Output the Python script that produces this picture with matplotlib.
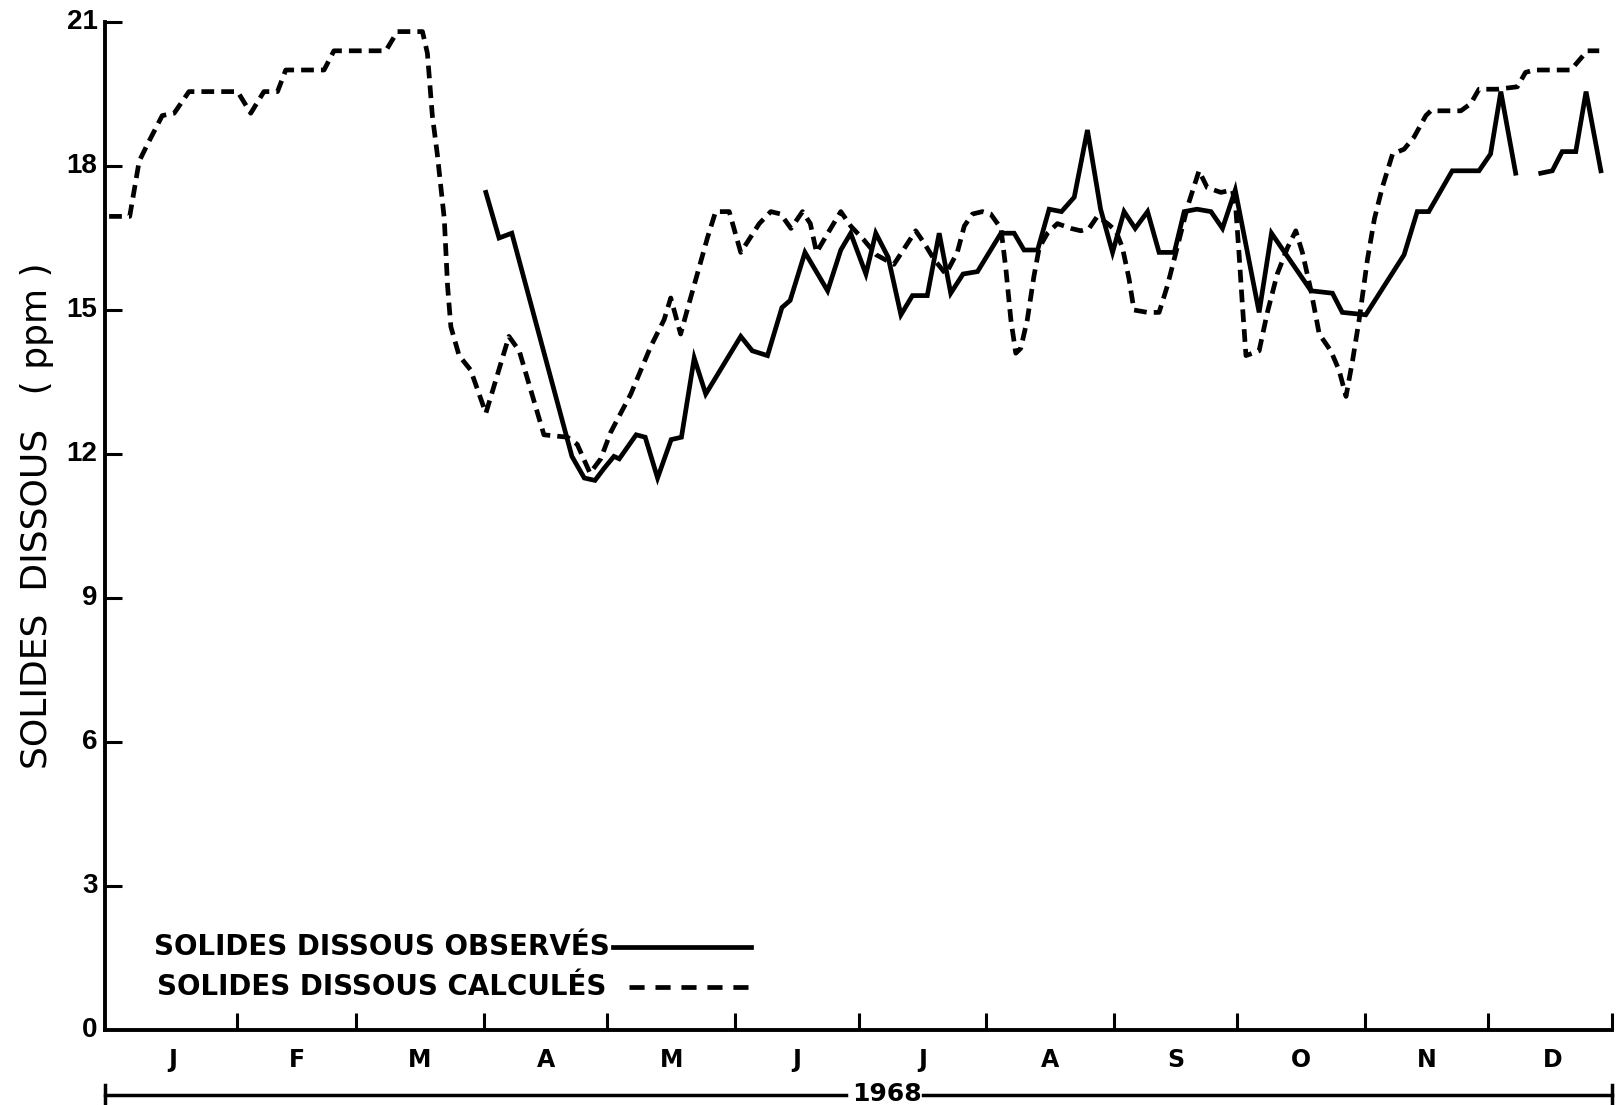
import numpy as np
import matplotlib.pyplot as plt
from matplotlib.transforms import blended_transform_factory

# --- données : jour de l'année 1968 (1 = 1er janvier) et solides dissous (ppm) ---

# solides dissous calculés (trait interrompu)
jours_calc = [1, 6, 8.3, 10.3, 13.9, 16.8, 20.4, 32.2, 35.4, 38.6, 41.9, 43.9, 53.2,
              55.6, 68.2, 71.0, 77.1, 78.3, 79.5, 80.7, 82.4, 83.2, 84.0, 86.0, 88.8,
              92.5, 98.1, 100.6, 106.6, 112.3, 114.7, 117.8, 120.4, 122.8, 127.7,
              132.6, 135.8, 137.4, 139.8, 141.4, 146.3, 148.3, 151.6, 154.4, 158.9,
              161.7, 164.1, 166.6, 169.4, 171.3, 172.8, 175.9, 178.7, 181.1, 184.4,
              187.3, 191.6, 196.9, 198.9, 201.4, 204.2, 207.0, 208.7, 210.7, 213.1,
              215.1, 217.6, 218.8, 220.0, 221.2, 222.4, 224.0, 225.6, 226.9, 228.9,
              231.3, 234.6, 237.0, 239.0, 241.0, 243.5, 245.5, 247.1, 248.7, 249.9,
              253.2, 256.0, 258.0, 260.1, 262.9, 265.7, 267.7, 271.0, 273.8, 274.6,
              275.4, 276.2, 277.1, 280.3, 282.3, 284.7, 287.2, 289.2, 290.8, 292.9,
              294.9, 297.7, 299.7, 301.4, 303.0, 304.6, 306.6, 308.3, 310.2, 312.7,
              315.5, 317.9, 320.8, 322.0, 329.3, 331.7, 333.7, 338.2, 343.0, 345.0,
              347.1, 356.0, 358.0, 360.0, 362.9]
solides_calc = [16.95, 16.95, 18.1, 18.45, 19.05, 19.1, 19.55, 19.55, 19.1, 19.55, 19.55,
                20.0, 20.0, 20.4, 20.4, 20.8, 20.8, 20.35, 19.05, 18.25, 16.9, 15.5,
                14.65, 14.05, 13.75, 12.85, 14.45, 14.15, 12.4, 12.35, 12.2, 11.6, 11.9,
                12.45, 13.25, 14.25, 14.8, 15.25, 14.5, 15.0, 16.5, 17.05, 17.05, 16.2,
                16.8, 17.05, 17.0, 16.7, 17.05, 16.8, 16.2, 16.65, 17.05, 16.75, 16.45,
                16.15, 15.95, 16.65, 16.4, 16.05, 15.75, 16.2, 16.75, 17.0, 17.05, 17.0,
                16.7, 15.85, 14.8, 14.1, 14.2, 14.8, 15.7, 16.3, 16.6, 16.8, 16.7, 16.65,
                16.7, 16.95, 16.8, 16.65, 16.3, 15.65, 15.0, 14.95, 14.95, 15.5, 16.2,
                17.15, 17.9, 17.55, 17.45, 17.5, 17.15, 16.2, 15.15, 14.05, 14.15, 14.95,
                15.75, 16.3, 16.65, 16.2, 15.4, 14.5, 14.15, 13.75, 13.2, 13.95, 14.8,
                16.05, 16.9, 17.55, 18.25, 18.35, 18.6, 19.05, 19.15, 19.15, 19.3, 19.6,
                19.6, 19.65, 19.95, 20.0, 20.0, 20.2, 20.4, 20.4]

# solides dissous observés (trait plein), nan = lacune de mesures
jours_obs = [92.5, 95.7, 98.8, 113.4, 116.4, 119.0, 121.2, 123.6, 124.9, 129.0, 131.2,
             134.2, 137.5, 140.0, 143.1, 145.9, 154.4, 157.2, 160.9, 164.4, 166.4,
             170.0, 175.5, 178.7, 181.1, 184.8, 187.2, 190.2, 193.3, 196.1, 199.7,
             202.6, 205.4, 208.4, 211.9, 217.6, 220.8, 223.2, 226.5, 229.3, 232.3,
             235.4, 238.6, 241.8, 244.7, 247.5, 250.2, 253.2, 256.0, 259.7, 262.1,
             265.2, 268.6, 271.4, 274.5, 280.3, 283.3, 286.1, 292.9, 298.1, 300.5,
             306.2, 315.5, 318.7, 321.5, 327.2, 333.7, 336.5, 339.0, 342.6, 345.5,
             348.7, 351.5, 353.9, 357.2, 359.7, 363.3]
solides_obs = [17.45, 16.5, 16.6, 11.95, 11.5, 11.45, 11.7, 11.95, 11.9, 12.4, 12.35,
               11.5, 12.3, 12.35, 14.0, 13.25, 14.45, 14.15, 14.05, 15.05, 15.2, 16.2,
               15.4, 16.25, 16.6, 15.75, 16.6, 16.1, 14.9, 15.3, 15.3, 16.6, 15.35,
               15.75, 15.8, 16.6, 16.6, 16.25, 16.25, 17.1, 17.05, 17.35, 18.75, 17.1,
               16.2, 17.05, 16.7, 17.05, 16.2, 16.2, 17.05, 17.1, 17.05, 16.7, 17.5,
               14.95, 16.6, 16.25, 15.4, 15.35, 14.95, 14.9, 16.15, 17.05, 17.05, 17.9,
               17.9, 18.25, 19.55, 17.85, np.nan, 17.85, 17.9, 18.3, 18.3, 19.55, 17.9]

# premier jour de chaque mois (1968 bissextile), 367 = 1er janvier 1969
debut_mois = [1, 32, 61, 92, 122, 153, 183, 214, 245, 275, 306, 336, 367]
lettres_mois = ['J', 'F', 'M', 'A', 'M', 'J', 'J', 'A', 'S', 'O', 'N', 'D']
graduations_y = [0, 3, 6, 9, 12, 15, 18, 21]
annee = '1968'
legende = ['SOLIDES DISSOUS OBSERVÉS', 'SOLIDES DISSOUS CALCULÉS']
titre_y = 'SOLIDES  DISSOUS   ( ppm )'

# --- figure ---
W, H = 1617, 1105
fig = plt.figure(figsize=(W / 100, H / 100), dpi=100)
ax = fig.add_axes([105 / W, 75 / H, 1507 / W, 1008 / H])

EP = 3.4          # épaisseur des courbes
tirets = (0, (2.7, 1.5))

ax.plot(jours_calc, solides_calc, color='black', lw=EP, linestyle=tirets,
        dash_capstyle='butt', dash_joinstyle='round')
ax.plot(jours_obs, solides_obs, color='black', lw=EP, solid_joinstyle='miter')

# l'axe part du 31 décembre (jour 0) et s'arrête au 31 décembre 1968
x_fin = debut_mois[-1] - 1
ax.set_xlim(0, x_fin)
ax.set_ylim(0, 21)

for cote in ['top', 'right']:
    ax.spines[cote].set_visible(False)
for cote in ['left', 'bottom']:
    ax.spines[cote].set_linewidth(2.8)

ax.set_xticks(debut_mois[1:-1] + [x_fin])
ax.set_yticks(graduations_y[1:])
ax.tick_params(direction='in', length=12, width=2.2,
               labelbottom=False, labelleft=False)

# étiquettes des graduations
ty = blended_transform_factory(ax.transAxes, ax.transData)
for v in graduations_y:
    ax.text(-0.005, v, str(v), transform=ty, ha='right', va='center',
            fontsize=20, fontweight='bold', family='Liberation Sans')

tx = blended_transform_factory(ax.transData, ax.transAxes)
for i, lettre in enumerate(lettres_mois):
    milieu = (debut_mois[i] + debut_mois[i + 1]) / 2
    ax.text(milieu, -0.030, lettre, transform=tx, ha='center', va='center',
            fontsize=17, fontweight='bold')

fig.text(37 / W, 1 - 516 / H, titre_y, rotation=90, ha='center', va='center',
         fontsize=26)

# légende dessinée à la main : texte puis échantillon de trait
ax.text(0.335, 0.0823, legende[0], transform=ax.transAxes, ha='right',
        va='center', fontsize=20, fontweight='bold')
ax.plot([0.337, 0.4287], [0.0823, 0.0823], transform=ax.transAxes,
        color='black', lw=EP)
ax.text(0.3325, 0.0427, legende[1], transform=ax.transAxes, ha='right',
        va='center', fontsize=20, fontweight='bold')
ax.plot([0.3477, 0.432], [0.0427, 0.0427], transform=ax.transAxes,
        color='black', lw=EP, linestyle=(0, (3.2, 2.3)))

# barre de l'année sous l'axe des x
tb = blended_transform_factory(ax.transAxes, fig.transFigure)
yb = 10 / H
for x0, x1 in [(0, 0.4917), (0.5428, 1)]:
    ax.plot([x0, x1], [yb, yb], transform=tb, clip_on=False, color='black', lw=2.5)
for xe in [0, 1]:
    ax.plot([xe, xe], [yb - 0.009, yb + 0.009], transform=tb, clip_on=False,
            color='black', lw=2.5)
ax.text(0.519, yb + 0.001, annee, transform=tb, ha='center', va='center',
        fontsize=18, fontweight='bold')

fig.savefig('out.png', dpi=100)
